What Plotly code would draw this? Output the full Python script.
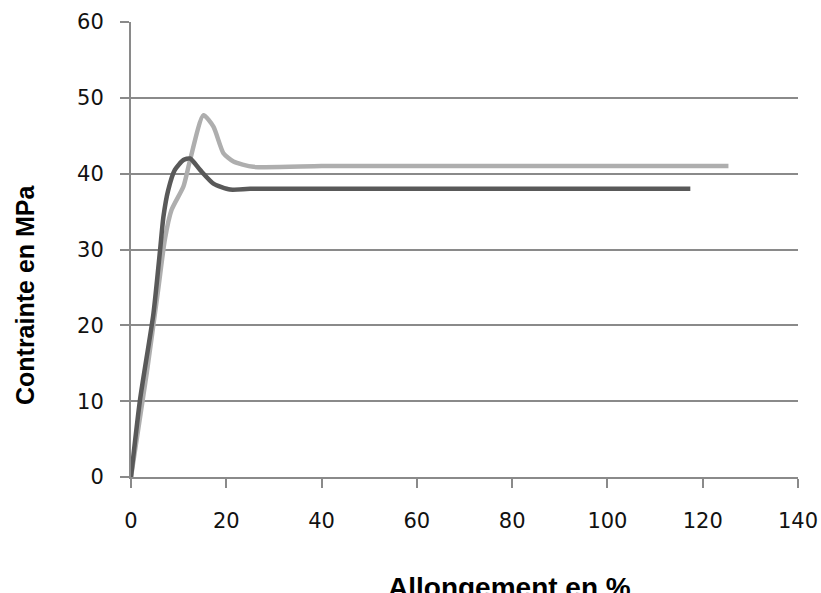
import plotly.graph_objects as go

# Data
dark_x = [0, 1.9, 4.7, 6.1, 6.8, 7.8, 9.2, 11.0, 12.4, 14.5, 17.3, 20.8, 25, 40, 60, 80, 100, 117.4]
dark_y = [0, 10.2, 21.5, 29.9, 34.3, 37.8, 40.5, 41.8, 42.0, 40.5, 38.7, 37.9, 38.0, 38.0, 38.0, 38.0, 38.0, 38.0]

light_x = [0, 3.3, 5.7, 7.1, 8.5, 11.0, 12.4, 15.2, 17.3, 19.4, 21.5, 25.7, 40, 60, 80, 100, 125.4]
light_y = [0, 13.7, 24.7, 31.3, 35.2, 38.3, 41.8, 47.7, 46.2, 42.7, 41.6, 40.9, 41.0, 41.0, 41.0, 41.0, 41.0]

x_ticks = [0, 20, 40, 60, 80, 100, 120, 140]
y_ticks = [0, 10, 20, 30, 40, 50, 60]

x_title = "Allongement en %"
y_title = "Contrainte en MPa"

fig = go.Figure()
fig.add_trace(go.Scatter(x=light_x, y=light_y, mode="lines",
                         line=dict(color="#aeaeae", width=4.5, shape="spline", smoothing=0.6),
                         showlegend=False))
fig.add_trace(go.Scatter(x=dark_x, y=dark_y, mode="lines",
                         line=dict(color="#595959", width=4.5, shape="spline", smoothing=0.6),
                         showlegend=False))

fig.update_layout(
    width=821, height=593,
    margin=dict(l=131, r=23, t=22, b=116),
    plot_bgcolor="white", paper_bgcolor="white",
    font=dict(family="DejaVu Sans", size=21, color="#111111"),
    xaxis=dict(range=[0, 140], tickvals=x_ticks, ticktext=[str(v) for v in x_ticks],
               showgrid=False, zeroline=False, showline=True, linecolor="#8a8a8a", linewidth=2,
               ticks="outside", ticklen=9, tickcolor="#8a8a8a", tickwidth=1.5,
               ticklabelstandoff=15, automargin=False),
    yaxis=dict(range=[0, 60], tickvals=y_ticks, ticktext=[str(v) for v in y_ticks],
               showgrid=True, gridcolor="#8a8a8a", gridwidth=1.5, zeroline=False,
               showline=True, linecolor="#8a8a8a", linewidth=2,
               ticks="outside", ticklen=9, tickcolor="#8a8a8a", tickwidth=1.5,
               ticklabelstandoff=12, automargin=False),
    annotations=[
        dict(text=x_title, xref="paper", yref="paper", x=0.567, y=-0.205,
             xanchor="center", yanchor="top", showarrow=False,
             font=dict(family="Liberation Sans", size=28, color="black", weight="bold")),
        dict(text=y_title, xref="paper", yref="paper", x=-0.159, y=0.402,
             xanchor="center", yanchor="middle", showarrow=False, textangle=-90,
             font=dict(family="Liberation Sans", size=25, color="black", weight="bold")),
    ],
)

fig.write_html("out.html", config={"displayModeBar": False})

# remove the default page margin so the figure sits at the window's top-left corner
with open("out.html", "r", encoding="utf-8") as f:
    html = f.read()
html = html.replace("<head>", "<head><style>html,body{margin:0;padding:0;overflow:hidden;}</style>", 1)
with open("out.html", "w", encoding="utf-8") as f:
    f.write(html)
